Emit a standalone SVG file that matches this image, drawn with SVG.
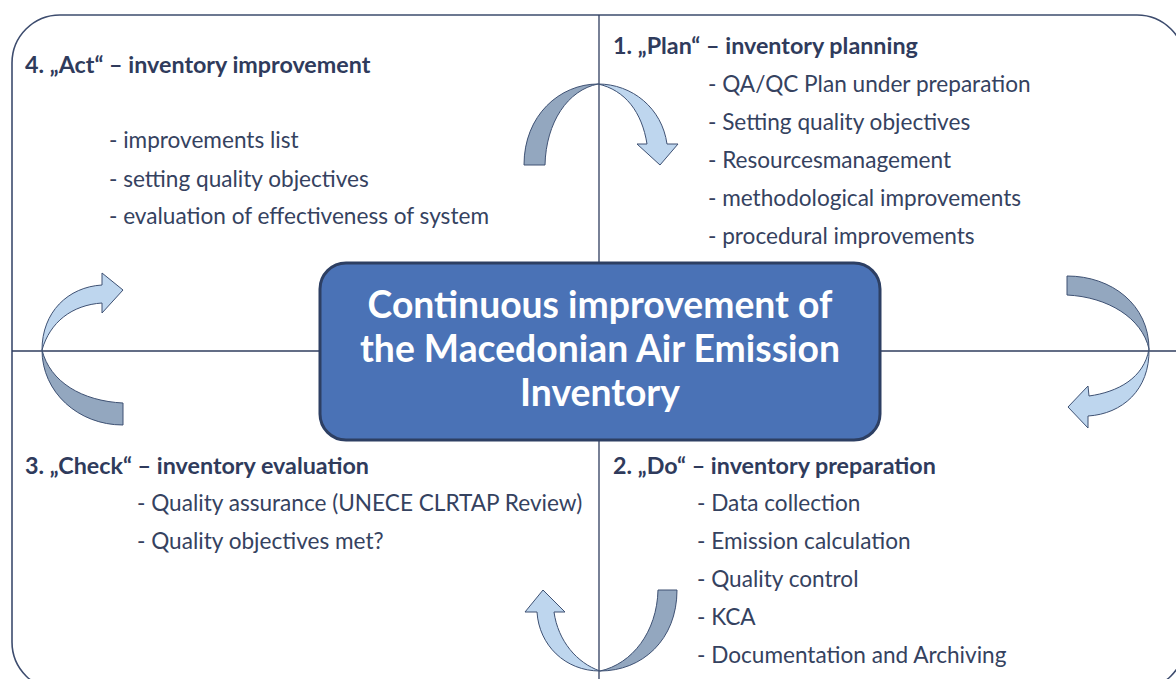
<svg xmlns="http://www.w3.org/2000/svg" width="1176" height="679" viewBox="0 0 1176 679">
<style>
.frame{fill:none;stroke:#3d4c6e;stroke-width:1.6}
.axis{stroke:#2f3d5e;stroke-width:1.3}
.h{font-family:Lato,"Liberation Sans",sans-serif;font-weight:bold;font-size:23.3px;fill:#2f3b5c}
.t{font-family:Lato,"Liberation Sans",sans-serif;font-size:22.6px;fill:#35425f}
.c{font-family:Lato,"Liberation Sans",sans-serif;font-weight:bold;font-size:37.3px;fill:#ffffff;text-anchor:middle}
.dk{fill:#93a7bf;stroke:#3e5173;stroke-width:1}
.lt{fill:#bed6ee;stroke:#3e5173;stroke-width:1}
</style>
<rect width="1176" height="679" fill="#ffffff"/>
<rect class="frame" x="12" y="15" width="1173" height="675" rx="48" ry="48"/>
<g id="axes">
<line class="axis" x1="599" y1="15" x2="599" y2="679"/>
<line class="axis" x1="12" y1="351" x2="1176" y2="351"/>
</g>
<g id="connectors">
<g id="arrow-act-plan">
<path class="dk" d="M598,84 C560,84 524,115 524,165 L545,165 C546,122 568,90 598,84 Z"/>
<path class="lt" d="M598,84 C632,84 662,108 667,144 L678,144 L660,165 L637,144 L647,144 C642,112 625,90 598,84 Z"/>
</g>
<g id="arrow-plan-do">
<path class="dk" d="M1149,349 C1149,305 1112,276 1067,276 L1067,295 C1108,297 1142,318 1149,349 Z"/>
<path class="lt" d="M1149,349 C1150,390 1122,414 1088,416 L1088,428 L1068,407 L1088,386 L1089,396 C1118,392 1144,378 1149,349 Z"/>
</g>
<g id="arrow-do-check">
<path class="dk" d="M600,671 C642,671 677,640 677,590 L658,590 C657,632 632,664 600,671 Z"/>
<path class="lt" d="M600,671 C565,671 539,645 537,612 L525,612 L543,590 L565,612 L554,612 C558,641 577,663 600,671 Z"/>
</g>
<g id="arrow-check-act">
<path class="dk" d="M42,350 C42,392 78,425 123,425 L123,403 C82,401 50,382 42,350 Z"/>
<path class="lt" d="M42,350 C42,312 68,287 102,285 L102,273 L123,290 L102,313 L102,303 C72,305 50,322 42,350 Z"/>
</g>
</g>
<g id="center">
<rect x="320" y="263" width="560" height="177" rx="26" ry="26" fill="#4a72b6" stroke="#2d3f63" stroke-width="3"/>
<text class="c" x="600" y="318">Continuous improvement of</text>
<text class="c" x="600" y="362">the Macedonian Air Emission</text>
<text class="c" x="600" y="406">Inventory</text>
</g>
<g id="act">
<text class="h" x="25" y="73">4. „Act“ – inventory improvement</text>
<text class="t" x="109" y="148">- improvements list</text>
<text class="t" x="109" y="187">- setting quality objectives</text>
<text class="t" x="109" y="224">- evaluation of effectiveness of system</text>
</g>
<g id="plan">
<text class="h" x="613" y="54">1. „Plan“ – inventory planning</text>
<text class="t" x="708" y="92">- QA/QC Plan under preparation</text>
<text class="t" x="708" y="130">- Setting quality objectives</text>
<text class="t" x="708" y="168">- Resourcesmanagement</text>
<text class="t" x="708" y="206">- methodological improvements</text>
<text class="t" x="708" y="244">- procedural improvements</text>
</g>
<g id="do">
<text class="h" x="613" y="474">2. „Do“ – inventory preparation</text>
<text class="t" x="697" y="511">- Data collection</text>
<text class="t" x="697" y="549">- Emission calculation</text>
<text class="t" x="697" y="587">- Quality control</text>
<text class="t" x="697" y="625">- KCA</text>
<text class="t" x="697" y="663">- Documentation and Archiving</text>
</g>
<g id="check">
<text class="h" x="25" y="474">3. „Check“ – inventory evaluation</text>
<text class="t" x="137" y="511">- Quality assurance (UNECE CLRTAP Review)</text>
<text class="t" x="137" y="549">- Quality objectives met?</text>
</g>
</svg>
